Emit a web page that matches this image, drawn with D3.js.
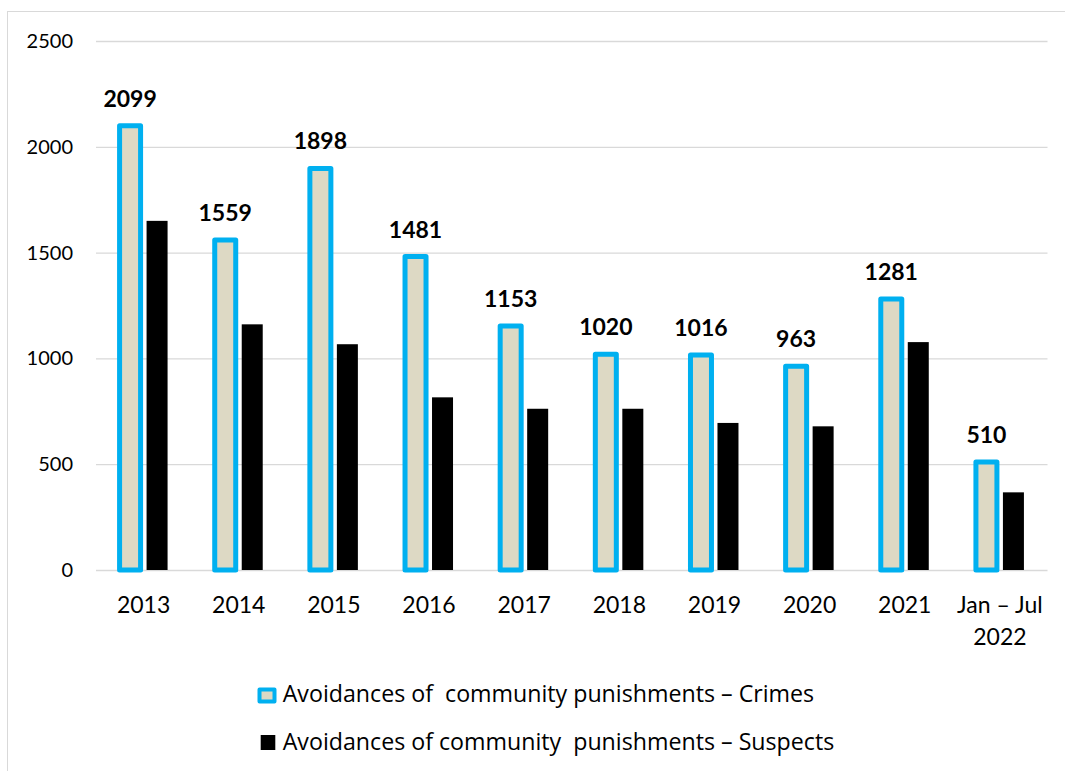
<!DOCTYPE html>
<html>
<head>
<meta charset="utf-8">
<script src="https://cdn.jsdelivr.net/npm/d3@7"></script>
<style>
  html, body { margin: 0; padding: 0; background: #fff; }
  svg { display: block; }
  text { fill: #000; }
</style>
</head>
<body>
<svg id="chart" width="1065" height="771" font-family="Lato, 'Open Sans', sans-serif"></svg>
<script>
// Avoidances of community punishments, by year
const categories = ["2013", "2014", "2015", "2016", "2017", "2018", "2019", "2020", "2021", "Jan – Jul|2022"];
const crimes   = [2099, 1559, 1898, 1481, 1153, 1020, 1016, 963, 1281, 510];
const suspects = [1650, 1161, 1067, 816, 762, 762, 695, 679, 1077, 367];
const yTicks   = [0, 500, 1000, 1500, 2000, 2500];
const seriesNames = [
  "Avoidances of  community punishments – Crimes",
  "Avoidances of community  punishments – Suspects"
];

const svg = d3.select("#chart");
const W = 1065, H = 771;
const plot = { left: 96, right: 1047.5, top: 41, bottom: 570 };

// outer chart-area frame
svg.append("rect")
  .attr("x", 7.5).attr("y", 11.5)
  .attr("width", W).attr("height", H)
  .attr("fill", "none").attr("stroke", "#d9d9d9").attr("stroke-width", 1);

const x = d3.scaleBand()
  .domain(categories)
  .range([plot.left, plot.right])
  .padding(0);

const y = d3.scaleLinear()
  .domain([0, 2500])
  .range([plot.bottom, plot.top]);

// gridlines + y axis labels
const yAxis = d3.axisLeft(y)
  .tickValues(yTicks)
  .tickFormat(d3.format("d"))
  .tickSize(-(plot.right - plot.left))
  .tickPadding(23);

const gy = svg.append("g")
  .attr("transform", `translate(${plot.left},0)`)
  .call(yAxis);
gy.select(".domain").remove();
gy.attr("font-family", null).attr("font-size", null);
gy.selectAll(".tick line").attr("stroke", "#d9d9d9").attr("stroke-width", 1.3);
gy.selectAll(".tick text")
  .attr("font-size", 20)
  .attr("fill", "#000");

// x axis category labels (two-line for the partial year)
const xAxis = d3.axisBottom(x).tickSize(0).tickFormat(() => "");
const gx = svg.append("g")
  .attr("transform", `translate(0,${plot.bottom})`)
  .call(xAxis);
gx.select(".domain").remove();
gx.attr("font-family", null).attr("font-size", null);
gx.selectAll(".tick").each(function (d) {
  const lines = d.split("|");
  const t = d3.select(this).append("text")
    .attr("text-anchor", "middle")
    .attr("font-size", 23)
    .attr("fill", "#000");
  lines.forEach((ln, i) => {
    t.append("tspan").attr("x", 0).attr("y", 43 + i * 32).text(ln);
  });
});

const barW = 21;
const cx = d => x(d) + x.bandwidth() / 2;

// crimes bars: beige fill with blue outline
svg.append("g").selectAll("rect")
  .data(crimes)
  .join("rect")
  .attr("x", (d, i) => cx(categories[i]) - 24)
  .attr("y", d => y(d))
  .attr("width", barW)
  .attr("height", d => y(0) - y(d))
  .attr("fill", "#ddd9c4")
  .attr("stroke", "#00b0f0")
  .attr("stroke-width", 5)
  .attr("stroke-linejoin", "round");

// suspects bars: solid black
svg.append("g").selectAll("rect")
  .data(suspects)
  .join("rect")
  .attr("x", (d, i) => cx(categories[i]) + 3)
  .attr("y", d => y(d))
  .attr("width", barW)
  .attr("height", d => y(0) - y(d))
  .attr("fill", "#000");

// value labels above crimes bars
svg.append("g").selectAll("text")
  .data(crimes)
  .join("text")
  .attr("x", (d, i) => cx(categories[i]) - 13.5)
  .attr("y", d => y(d) - 19)
  .attr("text-anchor", "middle")
  .attr("font-size", 23)
  .attr("font-weight", 700)
  .text(d => d);

// legend
const lg = svg.append("g").attr("font-family", "'Open Sans', Lato, sans-serif");
lg.append("rect")
  .attr("x", 259.5).attr("y", 689.5).attr("width", 15).attr("height", 12)
  .attr("fill", "#ddd9c4").attr("stroke", "#00b0f0").attr("stroke-width", 4)
  .attr("stroke-linejoin", "round");
lg.append("text").attr("x", 282.7).attr("y", 701.7)
  .attr("font-size", 23.2)
  .style("white-space", "pre")
  .text(seriesNames[0]);
lg.append("rect")
  .attr("x", 260.7).attr("y", 735).attr("width", 14.6).attr("height", 15)
  .attr("fill", "#000");
lg.append("text").attr("x", 282.7).attr("y", 750)
  .attr("font-size", 23.2)
  .style("white-space", "pre")
  .text(seriesNames[1]);
</script>
</body>
</html>
